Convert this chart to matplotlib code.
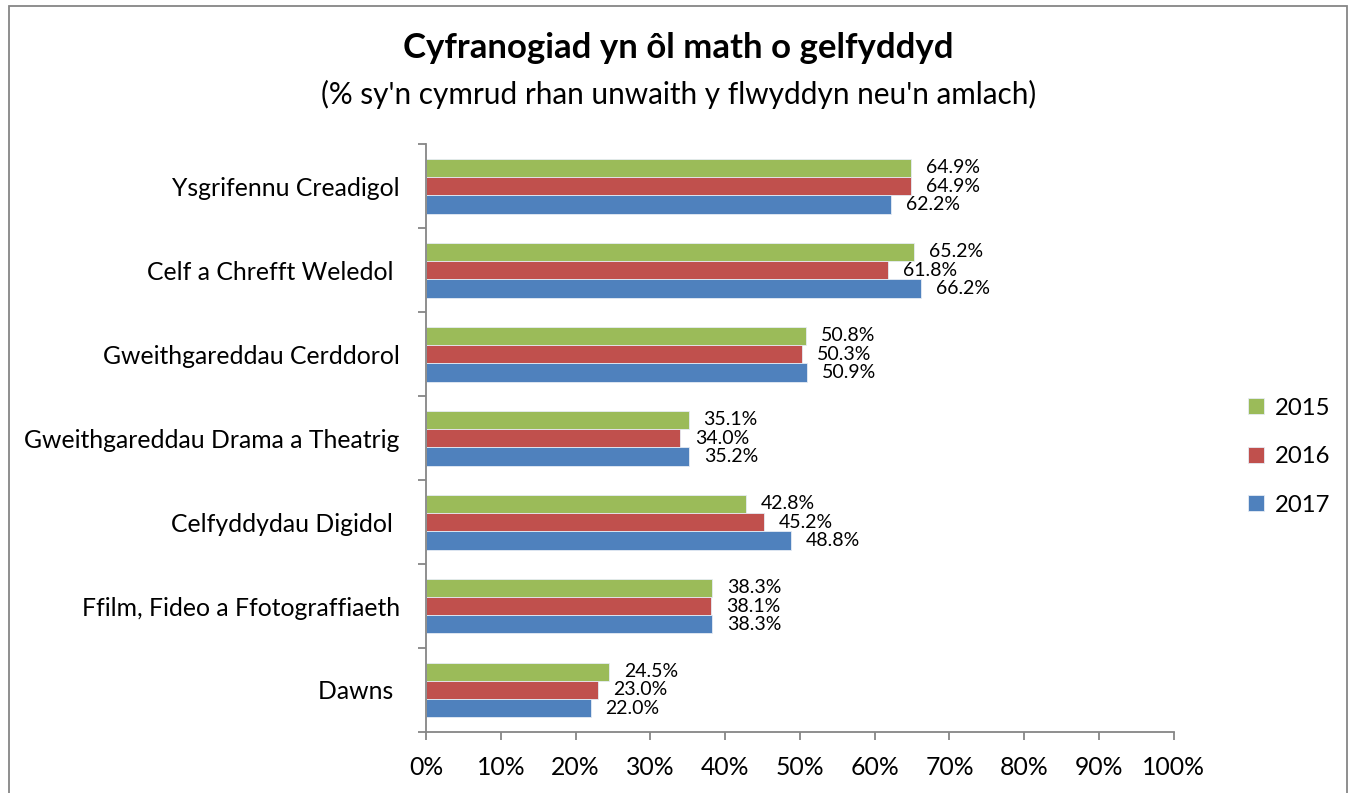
import matplotlib
matplotlib.use("Agg")
import matplotlib.pyplot as plt
from matplotlib.patches import Rectangle
from matplotlib.ticker import FixedLocator, FuncFormatter

categories = ["Ysgrifennu Creadigol",
              "Celf a Chrefft Weledol ",
              "Gweithgareddau Cerddorol",
              "Gweithgareddau Drama a Theatrig",
              "Celfyddydau Digidol ",
              "Ffilm, Fideo a Ffotograffiaeth",
              "Dawns "]
years = ["2015", "2016", "2017"]
v_2015 = [64.9, 65.2, 50.8, 35.1, 42.8, 38.3, 24.5]
v_2016 = [64.9, 61.8, 50.3, 34.0, 45.2, 38.1, 23.0]
v_2017 = [62.2, 66.2, 50.9, 35.2, 48.8, 38.3, 22.0]
series = [v_2015, v_2016, v_2017]
colors = ["#9BBB59", "#C0504D", "#4F81BD"]

plt.rcParams['font.family'] = ['Lato', 'DejaVu Sans']

fig = plt.figure(figsize=(13.57, 7.93), dpi=100)
ax = fig.add_axes([0.314, 0.077, 0.551, 0.741])

bh = 0.218
offs = [-bh, 0.0, bh]
for vals, off, col, yr in zip(series, offs, colors, years):
    pos = [i + off for i in range(len(categories))]
    ax.barh(pos, vals, height=bh, color=col, edgecolor="#E6ECF4",
            linewidth=0.6, label=yr)
    for p, v in zip(pos, vals):
        ax.annotate("{:.1f}%".format(v), (v, p), xytext=(15, 0),
                    textcoords="offset pixels",
                    va="center", ha="left", fontsize=14)

ax.set_xlim(0, 100)
ax.set_ylim(len(categories) - 0.5, -0.5)
ax.xaxis.set_major_locator(FixedLocator(range(0, 101, 10)))
ax.xaxis.set_major_formatter(FuncFormatter(lambda x, p: "{:d}%".format(int(x))))
ax.yaxis.set_major_locator(FixedLocator([i - 0.5 for i in range(len(categories) + 1)]))
ax.yaxis.set_major_formatter(FuncFormatter(lambda x, p: ""))
ax.yaxis.set_minor_locator(FixedLocator(range(len(categories))))
ax.set_yticklabels(categories, minor=True)
ax.tick_params(axis="y", which="minor", length=0, pad=19, labelsize=17.8)
ax.tick_params(axis="y", which="major", length=6, width=1.3, color="#868686")
ax.tick_params(axis="x", length=6, width=1.3, color="#868686", pad=11, labelsize=17.8)

for s in ["top", "right"]:
    ax.spines[s].set_visible(False)
for s in ["left", "bottom"]:
    ax.spines[s].set_color("#868686")
    ax.spines[s].set_linewidth(1.3)

leg = fig.legend(loc="center left", bbox_to_anchor=(0.904, 0.424), frameon=False,
                 fontsize=17.2, handlelength=0.65, handleheight=0.65,
                 handletextpad=0.45, labelspacing=1.15)

fig.text(0.5, 0.94, "Cyfranogiad yn ôl math o gelfyddyd", ha="center", va="center",
         fontsize=25, fontweight="bold")
fig.text(0.5, 0.881, "(% sy'n cymrud rhan unwaith y flwyddyn neu'n amlach)",
         ha="center", va="center", fontsize=21.4)

fig.patches.append(Rectangle((0.0066, -0.05), 0.9862, 1.0424, transform=fig.transFigure,
                             fill=False, edgecolor="#868686", linewidth=1.3))

fig.savefig("out.png", dpi=100)
